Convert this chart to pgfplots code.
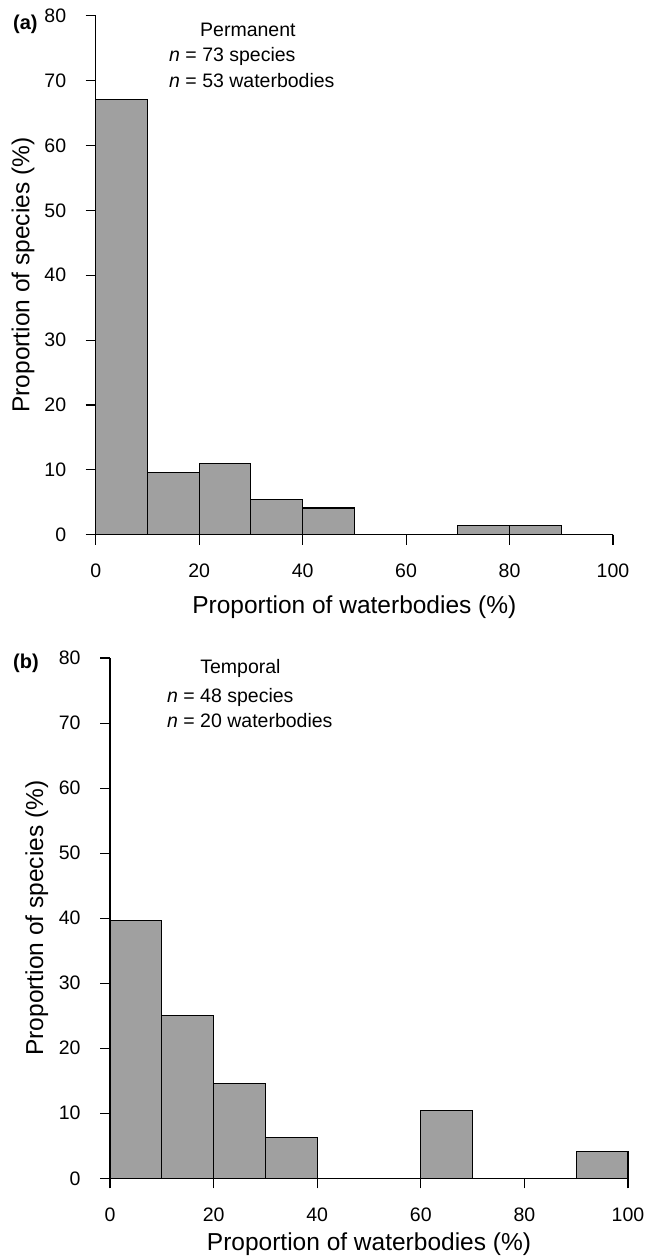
\documentclass[border=0pt]{standalone}
\usepackage{fontspec}
\setmainfont{Liberation Sans}
\usepackage{pgfplots}
\pgfplotsset{compat=1.18}
\definecolor{barfill}{RGB}{160,160,160}
\pgfplotsset{
  histstyle/.style={
    scale only axis, xmin=0, xmax=100, ymin=0, ymax=80,
    axis x line*=bottom, axis y line*=left,
    axis line style={-, line width=1.1pt, black},
    xtick={0,20,...,100}, ytick={0,10,...,80},
    tick align=outside, major tick length=10pt,
    tick style={line width=1.1pt, black},
    /pgf/number format/assume math mode=true,
    tick label style={font=\fontsize{19.5}{23}\selectfont},
    xticklabel style={yshift=-16pt},
    yticklabel style={xshift=-16pt},
    label style={font=\fontsize{24.5}{29}\selectfont},
    clip=false,
  },
}
\tikzset{annot/.style={anchor=base west, inner sep=0pt, font=\fontsize{19.5}{23}\selectfont}}
\begin{document}
\begin{tikzpicture}
\useasboundingbox (0,0) rectangle (648pt,-1259pt);
% Panel (a)
\begin{axis}[histstyle, width=517.3pt, height=519pt,
  at={(95.7pt,-534.7pt)}, anchor=south west,
  xlabel={Proportion of waterbodies (\%)},
  ylabel={Proportion of species (\%)},
  xlabel style={at={(axis description cs:0.5,-0.151)}, anchor=base},
  ylabel style={at={(axis description cs:-0.128,0.5)}, anchor=base}]
\addplot[ybar interval, fill=barfill, draw=black, line width=1.1pt] coordinates {
  (0,67.12) (10,9.59) (20,10.96) (30,5.48) (40,4.11) (50,0) (60,0) (70,1.37) (80,1.37) (90,0) (100,0)};
\node[annot] at (axis cs:20.16,76.87) {Permanent};
\node[annot] at (axis cs:14.17,72.91) {\textit{n} = 73 species};
\node[annot] at (axis cs:14.17,68.96) {\textit{n} = 53 waterbodies};
\end{axis}
% Panel (b)
\begin{axis}[histstyle, width=518pt, height=520.3pt,
  at={(110pt,-1178.3pt)}, anchor=south west,
  xlabel={Proportion of waterbodies (\%)},
  ylabel={Proportion of species (\%)},
  xlabel style={at={(axis description cs:0.5,-0.138)}, anchor=base},
  ylabel style={at={(axis description cs:-0.129,0.5)}, anchor=base}]
\addplot[ybar interval, fill=barfill, draw=black, line width=1.1pt] coordinates {
  (0,39.58) (10,25.0) (20,14.58) (30,6.25) (40,0) (50,0) (60,10.42) (70,0) (80,0) (90,4.17) (100,0)};
\node[annot] at (axis cs:17.4,77.55) {Temporal};
\node[annot] at (axis cs:11.0,73.19) {\textit{n} = 48 species};
\node[annot] at (axis cs:11.0,69.35) {\textit{n} = 20 waterbodies};
\end{axis}
\node[anchor=base west, inner sep=0pt, font=\bfseries\fontsize{20}{24}\selectfont] at (13pt,-29.5pt) {(a)};
\node[anchor=base west, inner sep=0pt, font=\bfseries\fontsize{20}{24}\selectfont] at (13pt,-668pt) {(b)};
\end{tikzpicture}
\end{document}
